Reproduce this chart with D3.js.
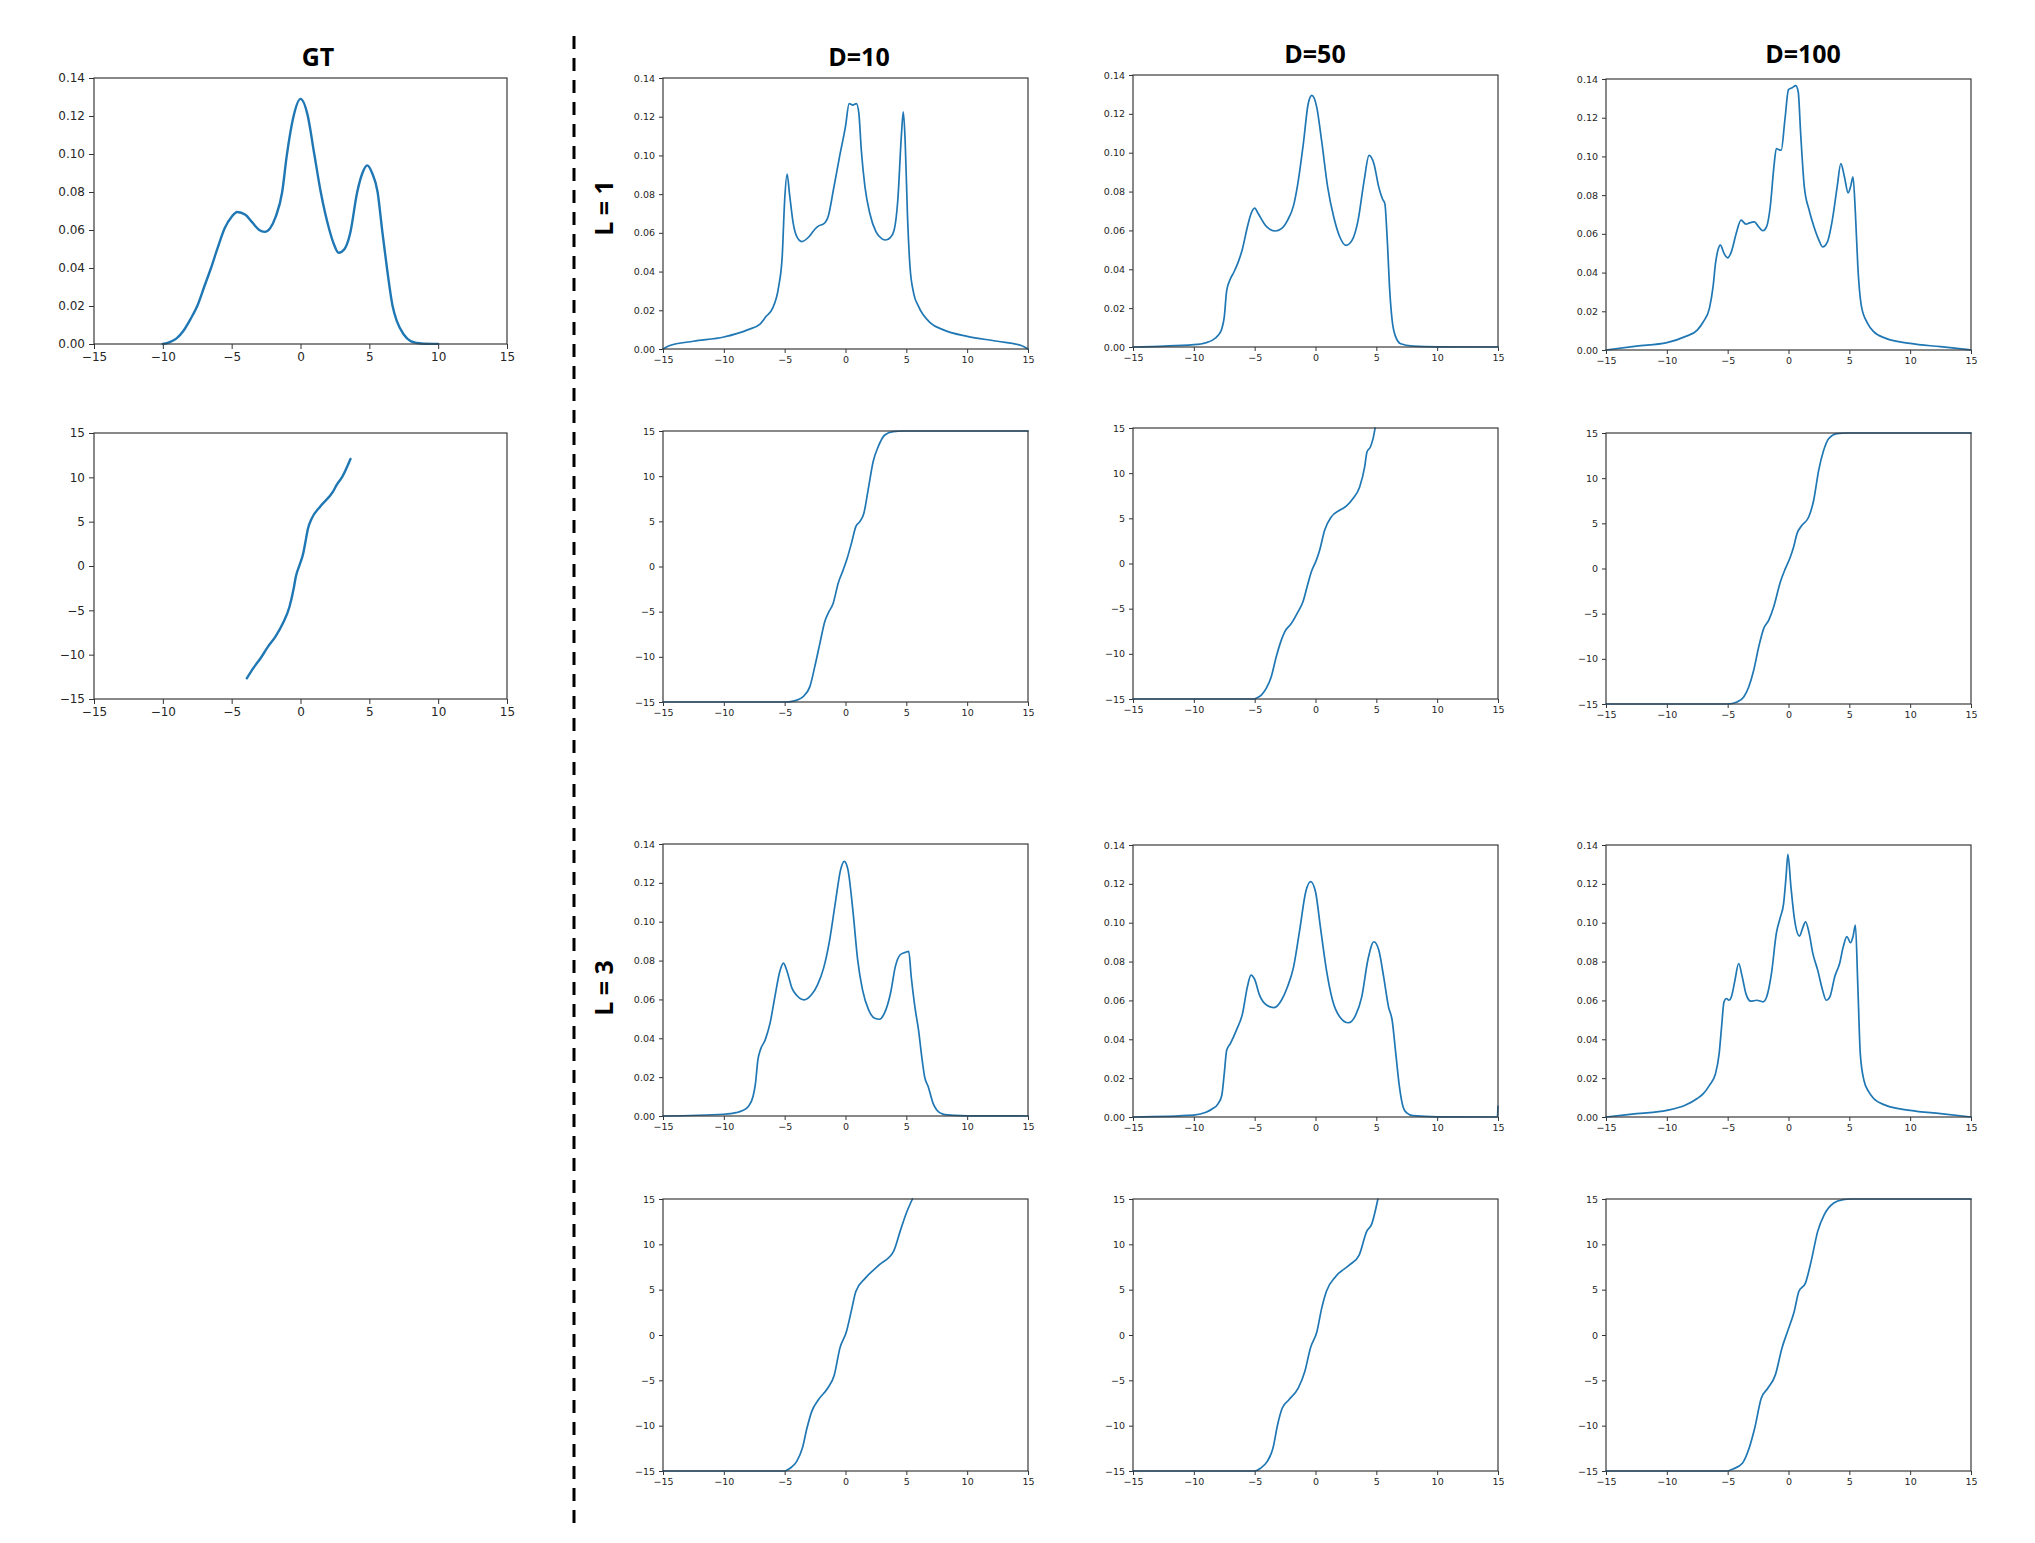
<!DOCTYPE html>
<html><head><meta charset="utf-8">
<script src="https://cdn.jsdelivr.net/npm/d3@7"></script>
<style>body{margin:0;background:#fff}</style>
</head><body>
<svg id="c" width="2035" height="1543"></svg>
<script>
// ---------- data ----------
const xTicks = [-15, -10, -5, 0, 5, 10, 15];
const densTicks = [0, 0.02, 0.04, 0.06, 0.08, 0.10, 0.12, 0.14];
const mapTicks = [-15, -10, -5, 0, 5, 10, 15];
const colTitles = ["GT", "D=10", "D=50", "D=100"];
const rowTitles = ["L = 1", "L = 3"];

const gtDensity = [[-10,0],[-9.5,0.001],[-9,0.003],[-8.5,0.007],[-8,0.013],[-7.5,0.02],[-7,0.03],[-6.5,0.04],[-6,0.051],[-5.5,0.061],[-5,0.067],[-4.6,0.0695],[-4,0.068],[-3.5,0.064],[-3,0.06],[-2.6,0.059],[-2.2,0.061],[-1.8,0.067],[-1.33,0.08],[-1,0.099],[-0.5,0.12],[0,0.129],[0.5,0.121],[1,0.1],[1.47,0.08],[2.1,0.06],[2.4,0.053],[2.77,0.048],[3.2,0.05],[3.6,0.058],[4.12,0.08],[4.5,0.09],[4.85,0.094],[5.2,0.09],[5.6,0.08],[5.93,0.06],[6.28,0.04],[6.69,0.02],[7,0.012],[7.5,0.005],[8,0.0015],[8.5,0.0005],[9,0.0001],[10,0]];
const gtMap = [[-3.9,-12.67],[-3.44,-11.54],[-2.9,-10.4],[-2.36,-9.1],[-1.82,-7.97],[-1.28,-6.47],[-0.8,-4.59],[-0.47,-2.33],[-0.34,-1.2],[-0.07,0.1],[0.2,1.43],[0.34,2.56],[0.55,4.25],[0.82,5.37],[1.42,6.69],[2.36,8.38],[2.63,9.14],[3.04,10.08],[3.63,12.07]];

const d10L1Density = [[-15,0],[-14.5,0.0017],[-12.5,0.004],[-10,0.0062],[-8,0.01],[-7,0.013],[-6.5,0.017],[-6,0.021],[-5.5,0.032],[-5.2,0.048],[-5,0.077],[-4.8,0.0904],[-4.6,0.08],[-4.3,0.065],[-4,0.058],[-3.6,0.0555],[-3,0.058],[-2.5,0.062],[-2.2,0.0636],[-1.8,0.0646],[-1.4,0.069],[-1,0.082],[-0.5,0.099],[0,0.115],[0.3,0.1268],[0.6,0.126],[0.9,0.1268],[1.1,0.1216],[1.3,0.1027],[1.6,0.0838],[2,0.07],[2.5,0.0606],[3,0.0569],[3.3,0.0563],[3.7,0.0577],[4,0.0615],[4.3,0.077],[4.6,0.111],[4.75,0.1225],[4.9,0.108],[5.1,0.068],[5.3,0.0426],[5.6,0.0289],[6,0.022],[7,0.0134],[8,0.01],[10,0.0065],[12.5,0.004],[14.5,0.0017],[15,0]];
const d10L1Map = [[-15,-15],[-5,-15],[-4.3,-14.9],[-3.48,-14.4],[-2.93,-13.3],[-2.52,-11.06],[-2.1,-8.48],[-1.7,-6.08],[-1.42,-5.16],[-1.01,-4.06],[-0.6,-1.85],[-0.19,-0.37],[0.14,0.92],[0.49,2.58],[0.85,4.42],[1.18,4.97],[1.51,5.9],[1.86,8.48],[2.27,11.6],[2.69,13.27],[3.23,14.56],[3.92,14.93],[4.74,15],[15,15]];

const d50L1Density = [[-15,0],[-10,0.0012],[-9,0.0022],[-8.5,0.0034],[-8,0.006],[-7.7,0.0094],[-7.5,0.0154],[-7.3,0.029],[-7,0.035],[-6.7,0.0386],[-6.3,0.0446],[-6,0.0506],[-5.6,0.0618],[-5.3,0.0686],[-5,0.0715],[-4.7,0.0686],[-4.3,0.0643],[-4,0.0618],[-3.3,0.0597],[-2.8,0.0609],[-2.3,0.0652],[-1.8,0.0729],[-1.5,0.0823],[-1,0.1046],[-0.6,0.1252],[-0.3,0.1295],[0.1,0.1235],[0.5,0.1063],[1,0.0823],[1.5,0.0669],[2,0.0566],[2.5,0.0523],[3,0.0549],[3.5,0.0652],[4,0.0858],[4.4,0.0986],[4.8,0.0943],[5.2,0.0823],[5.5,0.0763],[5.7,0.0738],[5.9,0.0549],[6.1,0.0292],[6.3,0.0137],[6.6,0.0051],[7,0.0017],[8,0.0005],[10,0.0001],[15,0]];
const d50L1Map = [[-15,-15],[-5,-15],[-4.86,-14.9],[-4.45,-14.56],[-4.04,-13.8],[-3.63,-12.5],[-3.22,-10.3],[-2.81,-8.48],[-2.53,-7.56],[-1.99,-6.64],[-1.44,-5.35],[-1.03,-4.24],[-0.62,-2.21],[-0.34,-0.92],[0.07,0.37],[0.34,1.47],[0.75,3.68],[1.3,5.16],[1.99,5.9],[2.53,6.34],[3.08,7.19],[3.63,8.48],[4.04,10.69],[4.23,12.35],[4.51,12.9],[4.73,13.82],[4.9,15]];

const d100L1Density = [[-15,0],[-12.5,0.002],[-10,0.0038],[-8.5,0.0069],[-7.5,0.0103],[-7,0.0146],[-6.5,0.0215],[-6.2,0.0327],[-6,0.0447],[-5.8,0.0516],[-5.6,0.0542],[-5.3,0.0499],[-5,0.0476],[-4.7,0.0507],[-4.3,0.0602],[-3.9,0.0671],[-3.5,0.065],[-3.2,0.0657],[-2.8,0.0662],[-2.5,0.064],[-2.1,0.0616],[-1.8,0.0637],[-1.5,0.074],[-1.2,0.0946],[-1,0.1041],[-0.8,0.1035],[-0.6,0.1032],[-0.3,0.1187],[0,0.1345],[0.3,0.1355],[0.6,0.1366],[0.8,0.1333],[1,0.1118],[1.3,0.0843],[1.7,0.0722],[2.1,0.0636],[2.5,0.0568],[2.8,0.0533],[3.2,0.0559],[3.6,0.0671],[4,0.0843],[4.3,0.0963],[4.6,0.0894],[4.9,0.0812],[5.1,0.0843],[5.3,0.0894],[5.5,0.0705],[5.7,0.043],[6,0.0224],[6.5,0.0138],[7,0.0095],[8,0.006],[10,0.0034],[12.5,0.0017],[15,0]];
const d100L1Map = [[-15,-15],[-5,-15],[-4.23,-14.78],[-3.68,-14.22],[-3.27,-13.12],[-2.86,-11.27],[-2.45,-8.69],[-2.04,-6.66],[-1.63,-5.74],[-1.22,-4.26],[-0.67,-1.49],[-0.26,-0.02],[0.15,1.27],[0.42,2.38],[0.7,3.86],[1.11,4.78],[1.66,5.7],[2.07,7.55],[2.48,10.87],[2.89,13.08],[3.3,14.37],[3.99,14.93],[4.8,15],[15,15]];

const d10L3Density = [[-15,0],[-10,0.0009],[-9,0.0017],[-8.5,0.0027],[-8,0.0048],[-7.6,0.01],[-7.4,0.0168],[-7.2,0.0289],[-7,0.034],[-6.6,0.0392],[-6.2,0.0478],[-5.8,0.0615],[-5.4,0.0744],[-5.1,0.0787],[-4.8,0.0744],[-4.4,0.0658],[-4,0.062],[-3.4,0.0598],[-2.8,0.0624],[-2.3,0.0675],[-1.8,0.0761],[-1.3,0.0907],[-0.8,0.1113],[-0.4,0.1268],[-0.1,0.1311],[0.2,0.1268],[0.6,0.1062],[1,0.0804],[1.4,0.0649],[1.9,0.0546],[2.4,0.0503],[2.8,0.0498],[3.2,0.0529],[3.7,0.0632],[4.1,0.077],[4.5,0.083],[4.9,0.0842],[5.2,0.0847],[5.4,0.0718],[5.7,0.0563],[6,0.0443],[6.3,0.0289],[6.5,0.0203],[6.8,0.0151],[7.2,0.0065],[7.5,0.0031],[8,0.001],[9,0.0003],[10,0.0001],[15,0]];
const d10L3Map = [[-15,-15],[-5,-15],[-4.56,-14.7],[-4.02,-13.97],[-3.55,-12.5],[-3.17,-10.29],[-2.78,-8.45],[-2.24,-7.16],[-1.47,-5.87],[-0.92,-4.4],[-0.46,-1.45],[0.08,0.39],[0.47,2.6],[0.85,4.8],[1.63,6.27],[2.79,7.75],[3.95,9.22],[4.49,11.43],[4.95,13.27],[5.5,15]];

const d50L3Density = [[-15,0],[-10,0.001],[-9,0.0024],[-8.5,0.0041],[-8,0.0069],[-7.7,0.0112],[-7.5,0.0223],[-7.3,0.0344],[-7,0.0378],[-6.5,0.0447],[-6,0.0532],[-5.6,0.067],[-5.3,0.073],[-5,0.0708],[-4.6,0.0627],[-4,0.0575],[-3.4,0.0563],[-2.8,0.0601],[-2.3,0.067],[-1.8,0.0773],[-1.3,0.0962],[-0.8,0.1159],[-0.4,0.1211],[0,0.1159],[0.4,0.0979],[0.9,0.0756],[1.4,0.0601],[2,0.0515],[2.7,0.0485],[3.3,0.0524],[3.8,0.0618],[4.3,0.0807],[4.8,0.0902],[5.2,0.0859],[5.6,0.0722],[6,0.0567],[6.3,0.0498],[6.6,0.0326],[6.9,0.0155],[7.2,0.0052],[7.5,0.0021],[8,0.0007],[10,0.0001],[14.95,0],[15,0.0055]];
const d50L3Map = [[-15,-15],[-5,-15],[-4.52,-14.7],[-3.98,-13.97],[-3.5,-12.5],[-3.12,-9.92],[-2.74,-8.08],[-2.2,-7.16],[-1.42,-5.87],[-0.88,-4.03],[-0.42,-1.45],[0.12,0.39],[0.51,2.97],[0.89,4.8],[1.66,6.46],[2.82,7.75],[3.6,8.85],[4.21,11.43],[4.6,12.17],[5.13,15]];

const d100L3Density = [[-15,0],[-12.5,0.0017],[-10,0.0034],[-8.5,0.006],[-7.5,0.0095],[-7,0.012],[-6.5,0.0163],[-6,0.0223],[-5.7,0.0326],[-5.5,0.0464],[-5.3,0.0593],[-5.1,0.061],[-4.9,0.0601],[-4.7,0.0618],[-4.4,0.0704],[-4.1,0.079],[-3.8,0.0721],[-3.5,0.0635],[-3.1,0.0596],[-2.6,0.0601],[-2.1,0.0593],[-1.8,0.0618],[-1.4,0.0739],[-1,0.0945],[-0.7,0.1022],[-0.4,0.11],[-0.2,0.1237],[-0.05,0.1352],[0.2,0.1185],[0.5,0.1014],[0.9,0.0931],[1.2,0.0979],[1.4,0.1005],[1.7,0.0945],[2,0.0842],[2.4,0.0756],[2.8,0.0653],[3.1,0.0601],[3.4,0.0618],[3.8,0.0722],[4.2,0.079],[4.5,0.0876],[4.8,0.0928],[5.1,0.0897],[5.3,0.0928],[5.5,0.0988],[5.7,0.067],[5.9,0.0326],[6.2,0.0189],[6.6,0.0129],[7,0.0095],[8,0.006],[10,0.0034],[12.5,0.0017],[15,0]];
const d100L3Map = [[-15,-15],[-5,-15],[-4.56,-14.78],[-3.79,-14.15],[-3.24,-12.5],[-2.78,-10.29],[-2.24,-6.98],[-1.7,-5.87],[-1.08,-4.4],[-0.54,-1.45],[-0.08,0.39],[0.47,2.6],[0.85,4.8],[1.39,5.72],[1.86,8.12],[2.4,11.43],[2.94,13.27],[3.72,14.56],[4.49,14.93],[5.1,15],[15,15]];

// ---------- layout ----------
const panels = [
  {x:94,  y:78,   w:413, h:266, kind:"dens", data:gtDensity,    big:true},
  {x:94,  y:433,  w:413, h:266, kind:"map",  data:gtMap,        big:true},
  {x:663, y:78,   w:365, h:271, kind:"dens", data:d10L1Density},
  {x:663, y:431,  w:365, h:271, kind:"map",  data:d10L1Map},
  {x:1133,y:75,   w:365, h:272, kind:"dens", data:d50L1Density},
  {x:1133,y:428,  w:365, h:271, kind:"map",  data:d50L1Map},
  {x:1606,y:79,   w:365, h:271, kind:"dens", data:d100L1Density},
  {x:1606,y:433,  w:365, h:271, kind:"map",  data:d100L1Map},
  {x:663, y:844,  w:365, h:272, kind:"dens", data:d10L3Density},
  {x:663, y:1199, w:365, h:272, kind:"map",  data:d10L3Map},
  {x:1133,y:845,  w:365, h:272, kind:"dens", data:d50L3Density},
  {x:1133,y:1199, w:365, h:272, kind:"map",  data:d50L3Map},
  {x:1606,y:845,  w:365, h:272, kind:"dens", data:d100L3Density},
  {x:1606,y:1199, w:365, h:272, kind:"map",  data:d100L3Map}
];
const titlePos = [[318,66],[859,66],[1315,63],[1803,63]];
const rowLabelPos = [[613,208],[613,988]];

const svg = d3.select("#c");
const minus = v => (v < 0 ? "\u2212" : "") + Math.abs(v);
const fmtDens = d3.format(".2f");

panels.forEach((p, i) => {
  const g = svg.append("g").attr("transform", `translate(${p.x},${p.y})`);
  const x = d3.scaleLinear().domain([-15, 15]).range([0, p.w]);
  const y = d3.scaleLinear().domain(p.kind === "dens" ? [0, 0.14] : [-15, 15]).range([p.h, 0]);
  const fs = p.big ? 12 : 9.5;
  const tl = p.big ? 5 : 4;
  const styleAxis = s => {
    s.select(".domain").remove();
    s.selectAll("line").attr("stroke", "#333").attr("stroke-width", 1);
    s.selectAll("text").attr("font-size", fs).attr("font-family", "DejaVu Sans").attr("fill", "#262626");
  };
  g.append("g").attr("transform", `translate(0,${p.h})`)
    .call(d3.axisBottom(x).tickValues(xTicks).tickSize(tl).tickPadding(p.big ? 3 : 3).tickFormat(minus))
    .call(styleAxis);
  g.append("g")
    .call(d3.axisLeft(y).tickValues(p.kind === "dens" ? densTicks : mapTicks).tickSize(tl).tickPadding(p.big ? 4 : 4)
      .tickFormat(p.kind === "dens" ? fmtDens : minus))
    .call(styleAxis);

  const cid = "clip" + i;
  g.append("clipPath").attr("id", cid).append("rect").attr("x", -1).attr("y", -1).attr("width", p.w + 2).attr("height", p.h + 2);
  const line = d3.line().x(d => x(d[0])).y(d => y(d[1])).curve(d3.curveMonotoneX);
  g.append("path").datum(p.data).attr("clip-path", `url(#${cid})`)
    .attr("d", line).attr("fill", "none").attr("stroke", "#1f77b4")
    .attr("stroke-width", p.big ? 2.4 : 1.7).attr("stroke-linejoin", "round").attr("stroke-linecap", "round");

  g.append("rect").attr("width", p.w).attr("height", p.h)
    .attr("fill", "none").attr("stroke", "#3a3a3a").attr("stroke-width", 1.2);
});

colTitles.forEach((t, i) => {
  svg.append("text").attr("x", titlePos[i][0]).attr("y", titlePos[i][1])
    .attr("text-anchor", "middle").attr("font-family", "Open Sans").attr("font-weight", "bold")
    .attr("font-size", 25).attr("fill", "#000").text(t);
});
rowTitles.forEach((t, i) => {
  svg.append("text").attr("transform", `translate(${rowLabelPos[i][0]},${rowLabelPos[i][1]}) rotate(-90)`)
    .attr("text-anchor", "middle").attr("font-family", "Open Sans").attr("font-weight", "bold")
    .attr("font-size", 25).attr("fill", "#000").text(t);
});

svg.append("line").attr("x1", 574).attr("x2", 574).attr("y1", 36).attr("y2", 1529)
  .attr("stroke", "#000").attr("stroke-width", 3).attr("stroke-dasharray", "13,9");
</script>
</body></html>
